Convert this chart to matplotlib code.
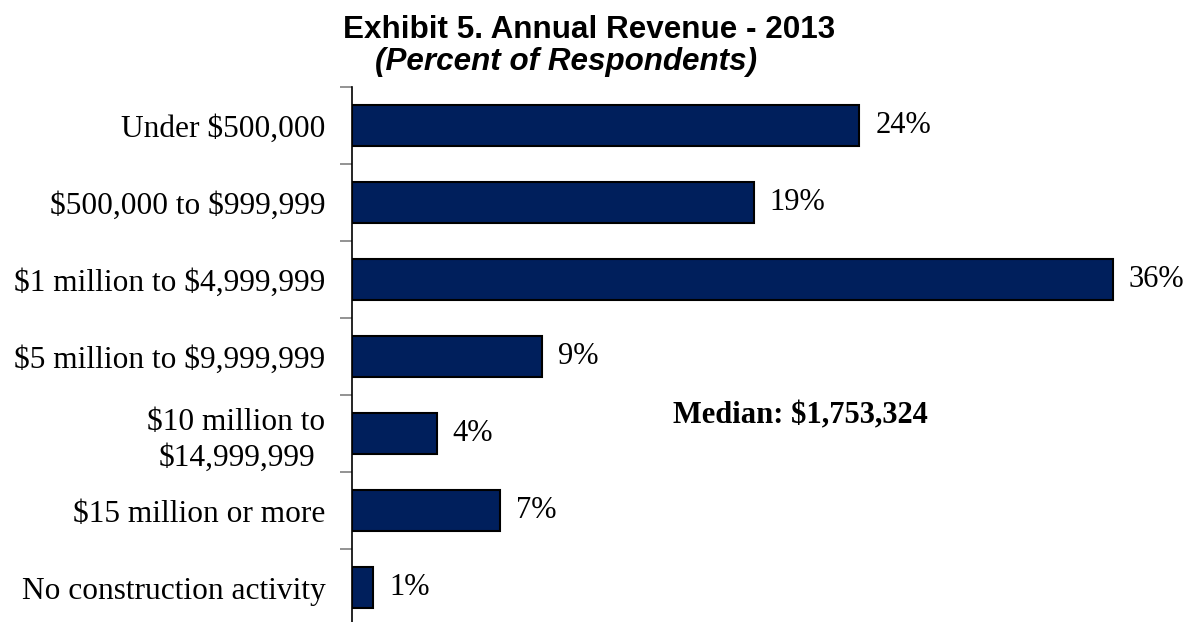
import matplotlib.pyplot as plt
from matplotlib.ticker import FixedLocator

categories = ['Under \\$500,000', '\\$500,000 to \\$999,999', '\\$1 million to \\$4,999,999',
              '\\$5 million to \\$9,999,999', '\\$10 million to\n\\$14,999,999',
              '\\$15 million or more', 'No construction activity']
percents = [24, 19, 36, 9, 4, 7, 1]

serif = ['Liberation Serif', 'DejaVu Serif']
sans = ['Liberation Sans', 'DejaVu Sans']

fig = plt.figure(figsize=(11.96, 6.22), dpi=100)
ax = fig.add_axes([352 / 1196, -4 / 622, 800 / 1196, 539 / 622])

y = list(range(len(categories)))
ax.barh(y, percents, height=0.52, color='#001f5c', edgecolor='black', linewidth=1.5)
ax.set_ylim(len(categories) - 0.5, -0.5)
ax.set_xlim(0, 800 / 21.14)

for yi, p in zip(y, percents):
    ax.text(p + 0.75, yi, f'{p}%', va='center', ha='left', fontsize=22, family=serif)

ax.set_yticks(y)
ax.set_yticklabels(categories, fontsize=22.6, family=serif, linespacing=1.3)
for lbl in ax.get_yticklabels():
    lbl.set_multialignment('center')
ax.yaxis.set_minor_locator(FixedLocator([i - 0.5 for i in range(len(categories) + 1)]))
ax.tick_params(axis='y', which='major', length=0, pad=19)
ax.tick_params(axis='y', which='minor', length=9, width=1.2, color='#808080')

ax.set_xticks([])
for side in ['top', 'right', 'bottom']:
    ax.spines[side].set_visible(False)
ax.spines['left'].set_linewidth(1.2)

ax.text(321 / 21.14, 4 - 0.23, 'Median: \\$1,753,324', fontsize=22, fontweight='bold',
        family=serif, va='center', ha='left')

fig.text(589 / 1196, 1 - 38 / 622, 'Exhibit 5. Annual Revenue - 2013', ha='center',
         va='baseline', fontsize=22.6, fontweight='bold', family=sans)
fig.text(566 / 1196, 1 - 70 / 622, '(Percent of Respondents)', ha='center',
         va='baseline', fontsize=22.6, fontweight='bold', style='italic', family=sans)

fig.savefig('out.png', dpi=100)
